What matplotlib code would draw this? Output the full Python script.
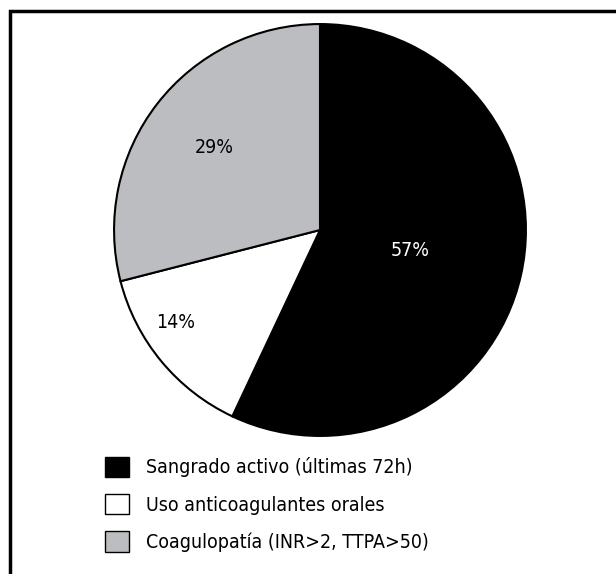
import matplotlib
matplotlib.use('Agg')
from matplotlib import pyplot as plt
from matplotlib.patches import Patch, Rectangle
import numpy as np

labels = ['Sangrado activo (últimas 72h)', 'Uso anticoagulantes orales', 'Coagulopatía (INR>2, TTPA>50)']
values = [57, 14, 29]
colors = ['#000000', '#ffffff', '#bcbdc0']
label_text = ['57%', '14%', '29%']
label_dist = [0.45, 0.83, 0.65]
label_shift = [0, -7, 0]   # degrees

plt.rcParams['font.family'] = ['DejaVu Sans']
plt.rcParams['font.stretch'] = 'condensed'

W, H = 616, 574
fig = plt.figure(figsize=(W/100, H/100), dpi=100)

# outer frame (right and bottom edges run off the picture)
fig.patches.append(Rectangle((10/W, -0.1), 1.2, (H-11)/H + 0.1, transform=fig.transFigure,
                             fill=False, lw=2.5, ec='black', clip_on=False))

cx, cy, r = 320, 230, 208
ax = fig.add_axes([(cx-r)/W, 1-(cy+r)/H, 2*r/W, 2*r/H])
wedges, _ = ax.pie(values, colors=colors, startangle=90, counterclock=False,
                   wedgeprops=dict(edgecolor='black', linewidth=1.5))
for w, t, d, s in zip(wedges, label_text, label_dist, label_shift):
    a = np.deg2rad((w.theta1 + w.theta2) / 2 + s)
    ax.text(d*np.cos(a), d*np.sin(a), t, ha='center', va='center',
            fontsize=14, color='white' if w.get_facecolor()[0] < 0.5 else 'black')
ax.set_xlim(-1.01, 1.01)
ax.set_ylim(-1.01, 1.01)
ax.set_aspect('equal')
ax.axis('off')

handles = [Patch(facecolor=c, edgecolor='black', lw=1) for c in colors]
fig.legend(handles, labels, loc='upper left', bbox_to_anchor=(87/W, 1-439/H),
           frameon=False, fontsize=14, handlelength=1.25, handleheight=1.25,
           labelspacing=0.85, handletextpad=0.9)

fig.savefig('out.png', dpi=100)
